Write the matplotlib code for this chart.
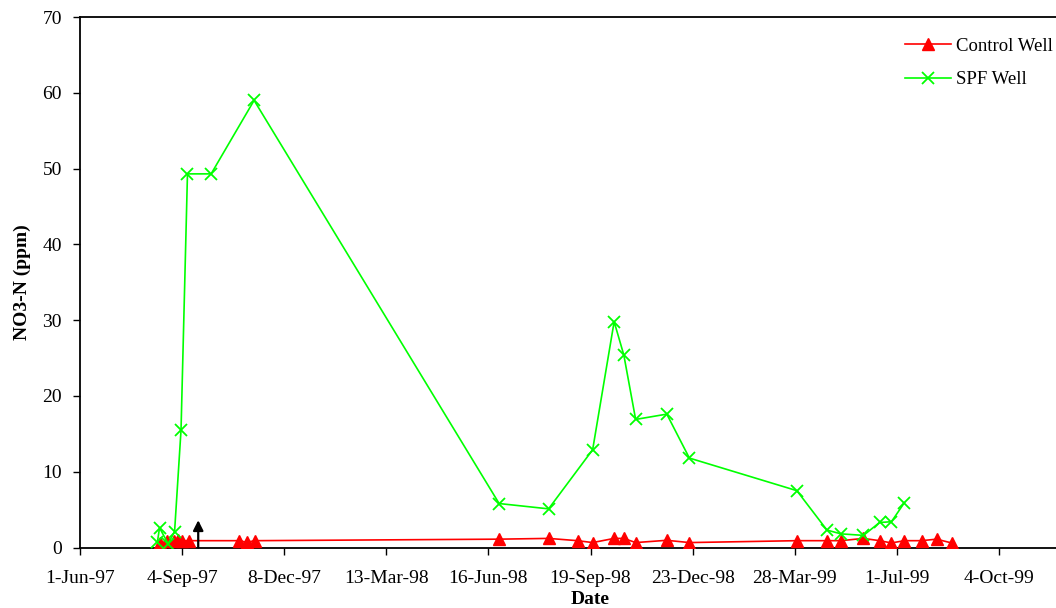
import numpy as np
import pandas as pd
import matplotlib
matplotlib.use('Agg')
from matplotlib import pyplot as plt
import matplotlib.dates as mdates

plt.rcParams['font.family'] = ['Liberation Serif', 'DejaVu Serif']

# data
spf_dates = ['1997-08-12', '1997-08-14', '1997-08-22', '1997-08-28', '1997-09-03',
             '1997-09-09', '1997-10-01', '1997-11-10', '1998-06-26', '1998-08-11',
             '1998-09-21', '1998-10-11', '1998-10-20', '1998-10-31', '1998-11-29',
             '1998-12-20', '1999-03-30', '1999-04-27', '1999-05-10', '1999-05-31',
             '1999-06-15', '1999-06-26', '1999-07-08']
spf_no3 = [0.7, 2.6, 0.5, 2.1, 15.5, 49.3, 49.3, 59.0, 5.8, 5.1,
           12.9, 29.8, 25.4, 16.9, 17.6, 11.8, 7.5, 2.3, 1.8, 1.6,
           3.3, 3.4, 5.9]

ctrl_dates = ['1997-08-14', '1997-08-21', '1997-08-27', '1997-08-31', '1997-09-04',
              '1997-09-10', '1997-10-27', '1997-11-03', '1997-11-11', '1998-06-26',
              '1998-08-11', '1998-09-07', '1998-09-21', '1998-10-11', '1998-10-20',
              '1998-10-31', '1998-11-29', '1998-12-20', '1999-03-30', '1999-04-27',
              '1999-05-10', '1999-05-31', '1999-06-15', '1999-06-26', '1999-07-08',
              '1999-07-24', '1999-08-07', '1999-08-21']
ctrl_no3 = [0.6, 0.8, 0.9, 1.0, 0.9, 0.9, 0.9, 0.7, 0.9, 1.1,
            1.2, 0.9, 0.65, 1.2, 1.2, 0.65, 0.95, 0.65, 0.9, 0.9,
            0.9, 1.2, 0.9, 0.6, 0.9, 0.9, 1.1, 0.6]

arrow_date = '1997-09-19'
arrow_top = 3.6

spf_dates = pd.to_datetime(spf_dates)
ctrl_dates = pd.to_datetime(ctrl_dates)
tick_dates = pd.date_range('1997-06-01', periods=11, freq='95D')

fig = plt.figure(figsize=(10.56, 6.08), dpi=100)
ax = fig.add_axes([80 / 1056, 1 - 547.5 / 608, 1021 / 1056, 530.5 / 608])

ax.plot(ctrl_dates, ctrl_no3, color='#ff0000', lw=1.2, marker='^',
        markersize=8.5, label='Control Well', zorder=3)
ax.plot(spf_dates, spf_no3, color='#00ff00', lw=1.2, marker='x',
        markersize=8.5, markeredgewidth=1.3, label='SPF Well', zorder=4)

ax.annotate('', xy=(pd.Timestamp(arrow_date), arrow_top),
            xytext=(pd.Timestamp(arrow_date), 0),
            arrowprops=dict(arrowstyle='-|>', color='black', lw=1.6,
                            mutation_scale=15, shrinkA=0, shrinkB=0),
            zorder=5)

ax.set_xlim(tick_dates[0], tick_dates[-1])
ax.set_ylim(0, 70)
ax.set_xticks(tick_dates[:-1])
ax.xaxis.set_major_formatter(mdates.DateFormatter('%-d-%b-%y'))
ax.set_yticks(np.arange(0, 71, 10))
ax.tick_params(axis='both', direction='out', length=5, width=1, labelsize=14, pad=8)
ax.tick_params(axis='x', pad=11)

for s in ['left', 'bottom', 'top']:
    ax.spines[s].set_linewidth(1.3)

ax.set_xlabel('Date', fontsize=14, fontweight='bold', labelpad=3)
ax.set_ylabel('NO3-N (ppm)', fontsize=14, fontweight='bold', labelpad=8)

ax.legend(loc='upper left', bbox_to_anchor=(888 / 1056, 1 - 21 / 608),
          bbox_transform=fig.transFigure, frameon=False, fontsize=13.5,
          handlelength=2.45, labelspacing=0.85, handletextpad=0.25)

plt.savefig('out.png', dpi=100)
